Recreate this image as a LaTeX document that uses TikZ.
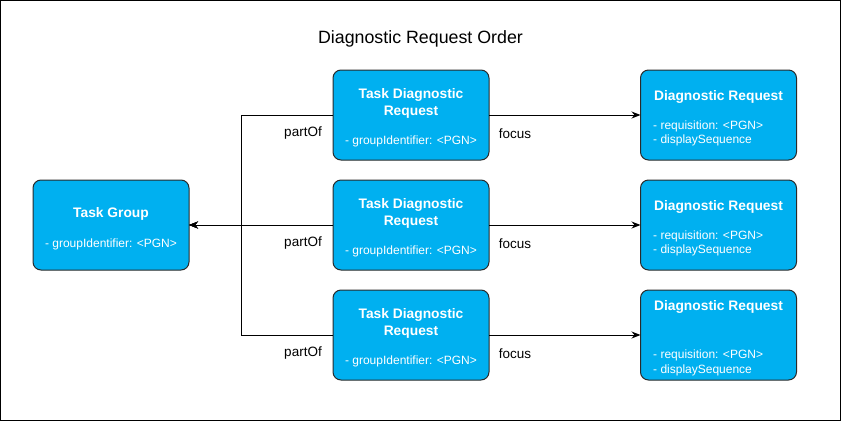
\documentclass[tikz,border=0pt]{standalone}
\usepackage{fontspec}
\setmainfont{Liberation Sans}
\usetikzlibrary{arrows.meta}
\definecolor{boxfill}{HTML}{00B0F0}
\definecolor{boxline}{HTML}{2A2A2A}
\tikzset{
  box/.style={draw=boxline, fill=boxfill, rounded corners=8pt, line width=1pt,
    minimum width=156pt, minimum height=90pt, inner sep=0pt, outer sep=0pt},
  ttl/.style={text=white, font=\fontsize{13.8}{16}\selectfont\bfseries, inner sep=0pt, yshift=-2pt},
  attr/.style={text=white, font=\fontsize{12}{14}\selectfont, inner sep=0pt, yshift=-1.5pt},
  lbl/.style={text=black, font=\fontsize{13.5}{16}\selectfont, inner sep=0pt, yshift=-1.5pt},
  conn/.style={line width=1pt, -{Stealth[length=9pt,width=7pt]}},
}
\begin{document}
\begin{tikzpicture}[x=1pt,y=-1pt]
\useasboundingbox (0,0) rectangle (841,421);
\draw[line width=1pt] (0.5,0.5) rectangle (840.5,420.5);
\node[font=\fontsize{17.8}{20}\selectfont, yshift=-2pt] (title) at (420.5,37) {Diagnostic Request Order};

% boxes
\node[box] (tg) at (111,225) {};
\node[box] (tdr1) at (411,115) {};
\node[box] (tdr2) at (411,225) {};
\node[box] (tdr3) at (411,335) {};
\node[box] (dr1) at (718.5,115) {};
\node[box] (dr2) at (718.5,225) {};
\node[box] (dr3) at (718.5,335) {};

% texts
\node[ttl] (tgt) at (111,212) {Task Group};
\node[attr] (tga) at (111,243) {- groupIdentifier: <PGN>};

\node[ttl] (t1a) at (411,93) {Task Diagnostic};
\node[ttl] (t1b) at (411,110) {Request};
\node[attr] (t1c) at (411,140) {- groupIdentifier: <PGN>};
\node[ttl] (t2a) at (411,203) {Task Diagnostic};
\node[ttl] (t2b) at (411,220) {Request};
\node[attr] (t2c) at (411,250) {- groupIdentifier: <PGN>};
\node[ttl] (t3a) at (411,313) {Task Diagnostic};
\node[ttl] (t3b) at (411,330) {Request};
\node[attr] (t3c) at (411,360) {- groupIdentifier: <PGN>};

\node[ttl] (d1a) at (718.5,95) {Diagnostic Request};
\node[attr,anchor=west] (d1b) at (653,125) {- requisition: <PGN>};
\node[attr,anchor=west] (d1c) at (653,139) {- displaySequence};
\node[ttl] (d2a) at (718.5,205) {Diagnostic Request};
\node[attr,anchor=west] (d2b) at (653,235) {- requisition: <PGN>};
\node[attr,anchor=west] (d2c) at (653,249) {- displaySequence};
\node[ttl] (d3a) at (718.5,305) {Diagnostic Request};
\node[attr,anchor=west] (d3b) at (653,354) {- requisition: <PGN>};
\node[attr,anchor=west] (d3c) at (653,369) {- displaySequence};

% connectors
\coordinate (jn) at (241,225);
\draw[conn] (tdr1.west) -| (jn) -- (tg.east);
\draw[conn] (tdr2.west) -- (tg.east);
\draw[conn] (tdr3.west) -| (jn) -- (tg.east);
\draw[conn] (tdr1.east) -- (dr1.west);
\draw[conn] (tdr2.east) -- (dr2.west);
\draw[conn] (tdr3.east) -- (dr3.west);

% labels
\node[lbl] (p1) at (303,132) {partOf};
\node[lbl] (p2) at (303,242) {partOf};
\node[lbl] (p3) at (303,352) {partOf};
\node[lbl] (f1) at (515,132) {focus};
\node[lbl] (f2) at (515,242) {focus};
\node[lbl] (f3) at (515,352) {focus};
\end{tikzpicture}
\end{document}
